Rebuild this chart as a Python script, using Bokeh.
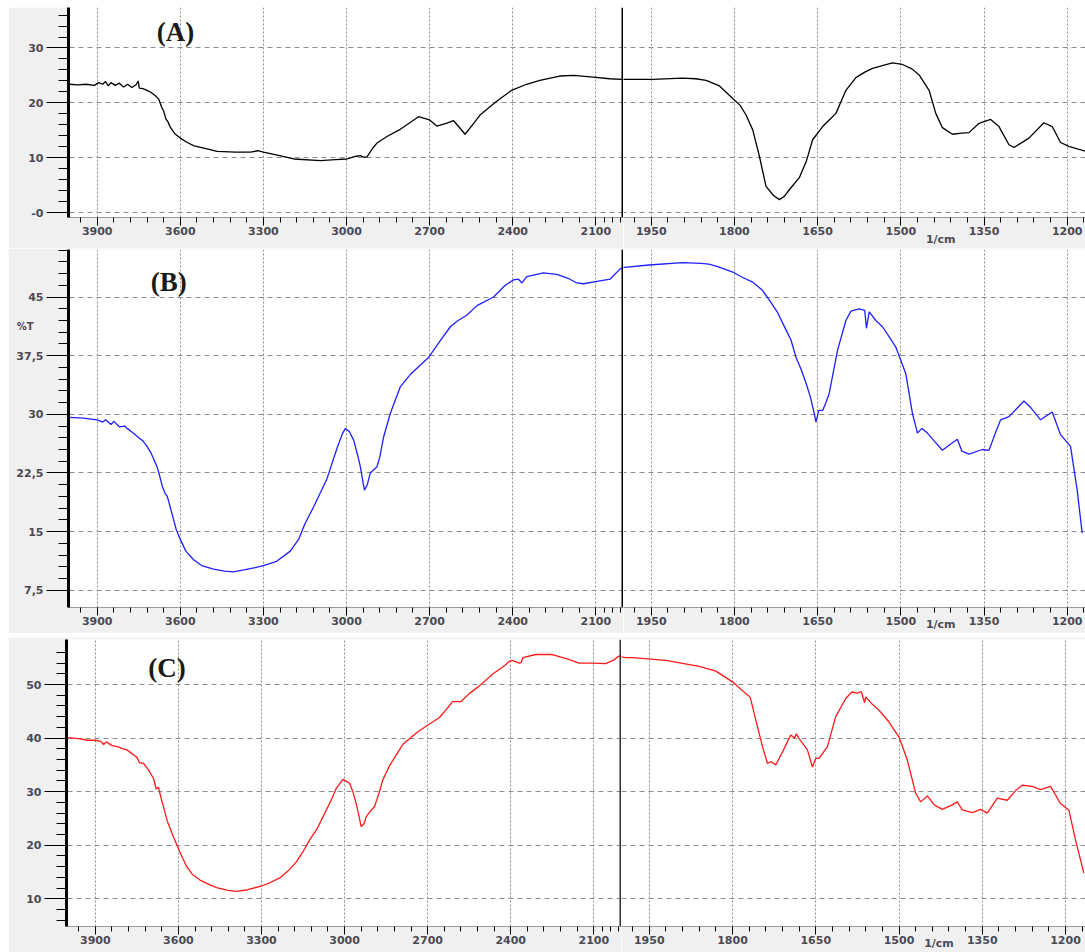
from bokeh.plotting import figure
from bokeh.models import Range1d, FixedTicker, Span, Label, LinearAxis, Spacer
from bokeh.layouts import column, row
from bokeh.embed import file_html
from bokeh.resources import INLINE

# ---------------- data (wavenumber in 1/cm, transmittance %T) ----------------
wn_a = [4000, 3970, 3940, 3910, 3895, 3880, 3870, 3860, 3850, 3835, 3820, 3805, 3790, 3775, 3760,
        3752, 3748, 3735, 3720, 3705, 3690, 3678, 3668, 3660, 3652, 3645, 3636, 3620, 3600, 3575,
        3550, 3500, 3467, 3400, 3346, 3320, 3300, 3250, 3190, 3094, 3040, 2998, 2965, 2950, 2935,
        2926, 2905, 2890, 2854, 2806, 2740, 2700, 2674, 2640, 2614, 2590, 2572, 2545, 2518, 2460,
        2404, 2350, 2302, 2230, 2180, 2110, 2050, 2007, 1948, 1894, 1870, 1851, 1827, 1803, 1790,
        1779, 1767, 1755, 1743, 1730, 1719, 1710, 1701, 1683, 1670, 1659, 1641, 1630, 1617, 1599,
        1581, 1565, 1551, 1530, 1515, 1497, 1480, 1467, 1449, 1437, 1425, 1407, 1390, 1377, 1359,
        1338, 1323, 1305, 1296, 1269, 1242, 1227, 1212, 1197, 1167]
t_a = [23.4, 23.3, 23.4, 23.2, 23.7, 23.4, 23.9, 23.1, 23.7, 23.2, 23.6, 22.9, 23.4, 22.8, 23.3,
       24.0, 22.7, 22.6, 22.3, 21.9, 21.3, 20.7, 19.3, 18.5, 17.1, 16.6, 15.6, 14.4, 13.6, 12.8,
       12.2, 11.6, 11.2, 11.05, 11.05, 11.3, 11.05, 10.5, 9.8, 9.5, 9.7, 9.8, 10.3, 10.4, 10.1,
       10.2, 11.8, 12.7, 13.9, 15.2, 17.5, 16.9, 15.8, 16.3, 16.8, 15.4, 14.3, 16.0, 17.8, 20.2,
       22.3, 23.4, 24.1, 24.9, 25.0, 24.7, 24.4, 24.3, 24.3, 24.5, 24.4, 24.1, 23.1, 20.8, 19.6,
       17.8, 15.1, 10.3, 4.8, 3.2, 2.4, 3.0, 4.2, 6.4, 9.5, 13.3, 15.7, 16.8, 18.1, 22.3,
       24.6, 25.6, 26.3, 26.9, 27.3, 27.0, 26.2, 25.1, 22.3, 18.1, 15.5, 14.3, 14.5, 14.6, 16.3,
       17.0, 15.7, 12.4, 11.9, 13.6, 16.4, 15.7, 12.8, 12.1, 11.2]

wn_b = [4000, 3950, 3900, 3880, 3870, 3850, 3840, 3820, 3800, 3792, 3770, 3750, 3735, 3720, 3705,
        3695, 3684, 3675, 3665, 3655, 3647, 3630, 3615, 3600, 3580, 3552, 3520, 3480, 3440, 3408,
        3370, 3330, 3300, 3252, 3203, 3173, 3150, 3118, 3070, 3034, 3015, 3004, 2990, 2974, 2960,
        2950, 2940, 2935, 2925, 2914, 2890, 2880, 2866, 2842, 2806, 2767, 2703, 2660, 2625, 2601,
        2565, 2529, 2469, 2427, 2397, 2380, 2367, 2349, 2289, 2241, 2200, 2168, 2144, 2096, 2048,
        2012, 1998, 1954, 1894, 1860, 1846, 1830, 1803, 1785, 1767, 1750, 1737, 1722, 1707, 1698,
        1689, 1680, 1671, 1663, 1656, 1653, 1648, 1641, 1635, 1629, 1614, 1599, 1590, 1575, 1565,
        1562, 1557, 1545, 1533, 1520, 1509, 1491, 1479, 1470, 1462, 1452, 1440, 1425, 1410, 1398,
        1390, 1377, 1353, 1341, 1330, 1320, 1305, 1290, 1278, 1265, 1248, 1227, 1212, 1194, 1182,
        1173]
t_b = [29.6, 29.5, 29.3, 29.0, 29.3, 28.7, 29.1, 28.4, 28.5, 28.2, 27.6, 27.0, 26.6, 25.9, 25.0,
       24.2, 23.3, 22.2, 20.8, 19.9, 19.5, 17.3, 15.3, 14.0, 12.5, 11.4, 10.6, 10.2, 9.95, 9.85,
       10.1, 10.4, 10.65, 11.2, 12.5, 14.0, 16.0, 18.2, 21.8, 25.7, 27.5, 28.2, 27.8, 26.7, 24.8,
       23.3, 21.2, 20.3, 21.0, 22.5, 23.3, 24.5, 27.1, 30.1, 33.5, 35.2, 37.3, 39.5, 41.2, 41.9,
       42.7, 43.9, 45.0, 46.5, 47.2, 47.3, 46.8, 47.6, 48.1, 47.9, 47.4, 46.8, 46.7, 47.0, 47.3,
       48.6, 48.8, 49.1, 49.4, 49.3, 49.2, 48.9, 48.2, 47.5, 46.9, 45.9, 44.6, 43.0, 40.8, 39.5,
       37.3, 35.8, 34.0, 32.2, 30.1, 29.0, 30.5, 30.5, 31.5, 32.7, 38.2, 42.0, 43.2, 43.5, 43.3,
       41.0, 43.1, 42.0, 41.2, 39.8, 38.6, 35.2, 30.1, 27.6, 28.2, 27.6, 26.6, 25.4, 26.2, 26.8,
       25.3, 24.9, 25.5, 25.4, 27.5, 29.3, 29.7, 30.8, 31.7, 30.8, 29.3, 30.3, 27.4, 25.9, 20.3,
       14.8]

wn_c = [4000, 3960, 3930, 3900, 3880, 3870, 3860, 3840, 3820, 3800, 3786, 3770, 3750, 3740, 3726,
        3710, 3690, 3680, 3672, 3660, 3654, 3640, 3618, 3595, 3570, 3550, 3522, 3490, 3462, 3420,
        3390, 3350, 3300, 3270, 3234, 3200, 3174, 3150, 3126, 3100, 3078, 3050, 3030, 3006, 2982,
        2970, 2958, 2948, 2940, 2930, 2922, 2905, 2892, 2875, 2862, 2838, 2802, 2790, 2740, 2706,
        2658, 2630, 2610, 2580, 2550, 2514, 2466, 2420, 2406, 2394, 2370, 2362, 2356, 2310, 2250,
        2190, 2154, 2106, 2058, 2030, 2010, 1992, 1980, 1920, 1860, 1830, 1800, 1776, 1768, 1761,
        1746, 1737, 1730, 1722, 1710, 1695, 1688, 1685, 1680, 1665, 1656, 1650, 1644, 1629, 1614,
        1596, 1585, 1575, 1568, 1562, 1560, 1548, 1536, 1518, 1500, 1485, 1470, 1461, 1449, 1436,
        1422, 1405, 1395, 1386, 1368, 1353, 1341, 1323, 1305, 1290, 1278, 1260, 1245, 1227, 1209,
        1194, 1182, 1167]
t_c = [40.1, 39.9, 39.6, 39.6, 39.4, 38.8, 39.3, 38.6, 38.4, 38.0, 37.8, 37.2, 36.4, 35.4, 35.3,
       34.2, 32.5, 30.5, 30.8, 28.3, 27.2, 24.5, 21.6, 18.8, 16.0, 14.6, 13.5, 12.7, 12.1, 11.6,
       11.4, 11.7, 12.4, 13.0, 13.9, 15.4, 16.9, 18.8, 21.0, 23.0, 25.3, 28.2, 30.6, 32.3, 31.6,
       30.0, 27.8, 25.5, 23.5, 24.0, 25.3, 26.5, 27.2, 29.8, 32.2, 34.8, 37.8, 38.8, 41.0, 42.2,
       43.8, 45.5, 46.8, 46.8, 48.3, 49.7, 51.9, 53.6, 54.3, 54.5, 54.0, 54.1, 55.0, 55.6, 55.6,
       54.7, 54.0, 54.0, 53.9, 54.5, 55.3, 55.0, 55.0, 54.5, 53.4, 52.5, 50.5, 48.3, 47.6, 44.6,
       38.4, 35.3, 35.6, 35.0, 37.4, 40.6, 40.0, 40.8, 39.9, 37.8, 34.6, 36.2, 36.2, 38.4, 44.0,
       47.4, 48.6, 48.4, 48.7, 46.6, 47.7, 46.3, 45.2, 43.0, 40.2, 35.9, 29.7, 28.1, 29.2, 27.5,
       26.7, 27.5, 28.1, 26.6, 26.1, 26.7, 26.0, 28.8, 28.4, 30.2, 31.2, 31.0, 30.4, 31.0, 27.8,
       26.6, 21.0, 14.8]

# tick labels
left_major = [3900, 3600, 3300, 3000, 2700, 2400, 2100]
right_major = [1950, 1800, 1650, 1500, 1350, 1200]
left_minor = [w for w in range(3960, 2000, -60) if w not in left_major] + [2070, 2010]
right_minor = [w for w in range(1980, 1160, -30) if w not in right_major]

ya_major = [0, 10, 20, 30]
ya_labels = {0: "-0", 10: "10", 20: "20", 30: "30"}
yb_major = [7.5, 15, 22.5, 30, 37.5, 45]
yb_labels = {7.5: "7,5", 15: "15", 22.5: "22,5", 30: "30", 37.5: "37,5", 45: "45"}
yc_major = [10, 20, 30, 40, 50]
yc_labels = {10: "10", 20: "20", 30: "30", 40: "40", 50: "50"}

unit_pos = 1428          # where the "1/cm" unit text sits on the lower scale
unit_text = "1/cm"
t_pos = 41.26            # where "%T" sits on panel B's y scale
t_text = "%T"
break_at = 2000          # scale break of the wavenumber axis

TICK_FONT = "DejaVu Sans"
TICK_COLOR = "#4a4a55"
GRID_COLOR = "#8c8c8c"
TOTAL_W = 1077


def text_only_axis(ax, standoff, size="11px"):
    ax.major_tick_out = 0
    ax.major_tick_in = 0
    ax.minor_tick_out = 0
    ax.minor_tick_in = 0
    ax.major_tick_line_color = None
    ax.minor_tick_line_color = None
    ax.axis_line_color = None
    ax.major_label_text_font = TICK_FONT
    ax.major_label_text_font_size = size
    ax.major_label_text_font_style = "bold"
    ax.major_label_text_color = TICK_COLOR
    ax.major_label_standoff = standoff


def style_x(f, major, minor):
    tk = FixedTicker(ticks=major, minor_ticks=minor)
    ax = f.xaxis[0]
    ax.ticker = tk
    ax.axis_line_color = "#9a9a9a"
    ax.axis_line_width = 1
    ax.major_tick_out = 8
    ax.major_tick_in = 0
    ax.minor_tick_out = 5
    ax.minor_tick_in = 0
    ax.major_tick_line_color = "black"
    ax.minor_tick_line_color = "black"
    ax.major_label_text_font = TICK_FONT
    ax.major_label_text_font_size = "11px"
    ax.major_label_text_font_style = "bold"
    ax.major_label_text_color = TICK_COLOR
    ax.major_label_standoff = 1
    f.xgrid.ticker = tk
    f.xgrid.grid_line_color = GRID_COLOR
    f.xgrid.grid_line_dash = "2 2"
    f.xgrid.grid_line_width = 1


def panel(wn, t, color, yr, ymaj, ymin, ylab, height, top, bottom,
          left_w, left_border, xl, xr, tag, tag_xy, unit_standoff, break_color):
    figs = []
    for side in ("left", "right"):
        if side == "left":
            f = figure(width=left_w, height=height, x_range=Range1d(*xl),
                       y_range=Range1d(*yr), output_backend="svg", toolbar_location=None,
                       min_border_left=left_border, min_border_right=0,
                       min_border_top=top, min_border_bottom=bottom)
        else:
            f = figure(width=TOTAL_W - left_w, height=height, x_range=Range1d(*xr),
                       y_range=Range1d(*yr), output_backend="svg", toolbar_location=None,
                       y_axis_location=None,
                       min_border_left=0, min_border_right=0,
                       min_border_top=top, min_border_bottom=bottom)
        f.background_fill_color = "white"
        f.border_fill_color = "#f0f0f0"
        f.outline_line_color = None
        f.line(wn, t, line_color=color, line_width=1.3)
        if side == "left":
            style_x(f, left_major, left_minor)
        else:
            style_x(f, right_major, right_minor)
            ua = LinearAxis(ticker=FixedTicker(ticks=[unit_pos], minor_ticks=[]),
                            major_label_overrides={unit_pos: unit_text})
            text_only_axis(ua, unit_standoff)
            f.add_layout(ua, "below")
        ytk = FixedTicker(ticks=ymaj, minor_ticks=ymin)
        f.ygrid.ticker = ytk
        f.ygrid.grid_line_color = GRID_COLOR
        f.ygrid.grid_line_dash = "5 4"
        f.ygrid.grid_line_width = 1
        if side == "left":
            ay = f.yaxis[0]
            ay.ticker = ytk
            ay.major_label_overrides = ylab
            ay.axis_line_color = "black"
            ay.axis_line_width = 3
            ay.major_tick_out = 22
            ay.major_tick_in = 0
            ay.minor_tick_out = 10
            ay.minor_tick_in = 0
            ay.major_tick_line_color = "black"
            ay.minor_tick_line_color = "black"
            ay.major_label_text_font = TICK_FONT
            ay.major_label_text_font_size = "11px"
            ay.major_label_text_font_style = "bold"
            ay.major_label_text_color = TICK_COLOR
            ay.major_label_standoff = 3
            f.add_layout(Label(x=tag_xy[0], y=tag_xy[1], text=tag,
                               text_font="Liberation Serif", text_font_size="27px",
                               text_font_style="bold", text_color="#1a1a1a",
                               text_align="center", text_baseline="middle"))
            # scale-break marker (only half of the stroke falls inside the frame)
            f.add_layout(Span(location=break_at, dimension="height",
                              line_color=break_color, line_width=4))
        figs.append(f)
    return figs


a_l, a_r = panel(wn_a, t_a, "black", (-0.85, 37.37), ya_major,
                 [v for v in range(2, 38, 2) if v not in ya_major], ya_labels,
                 241, 0, 30, 615, 60, (4003.6, 2000), (2000, 1167), "(A)", (3617, 33.0), -5,
                 "black")
b_l, b_r = panel(wn_b, t_b, "#1f1fff", (5.29, 51.08), yb_major,
                 [round(7.5 + 1.5 * k, 1) for k in range(0, 30) if (k % 5) != 0], yb_labels,
                 385, 1, 25, 615, 60, (4003.6, 2000), (2000, 1167), "(B)", (3642, 46.9), -10,
                 "black")
c_l, c_r = panel(wn_c, t_c, "#ff1a1a", (4.84, 58.4), yc_major,
                 [v for v in range(6, 58, 2) if v not in yc_major], yc_labels,
                 315, 2, 25, 613, 58, (4004, 2000), (2000, 1164), "(C)", (3641, 53.0), -10,
                 "#333333")

# "%T" placed beside panel B's y scale
ta = LinearAxis(ticker=FixedTicker(ticks=[t_pos], minor_ticks=[]),
                major_label_overrides={t_pos: t_text})
text_only_axis(ta, -20, size="10px")
b_l.add_layout(ta, "left")

p = column(
    Spacer(width=1085, height=7),
    row(Spacer(width=8, height=241), a_l, a_r),
    row(Spacer(width=8, height=385), b_l, b_r),
    Spacer(width=1085, height=4),
    row(Spacer(width=8, height=315), c_l, c_r),
)
open("out.html", "w").write(file_html(p, INLINE))
